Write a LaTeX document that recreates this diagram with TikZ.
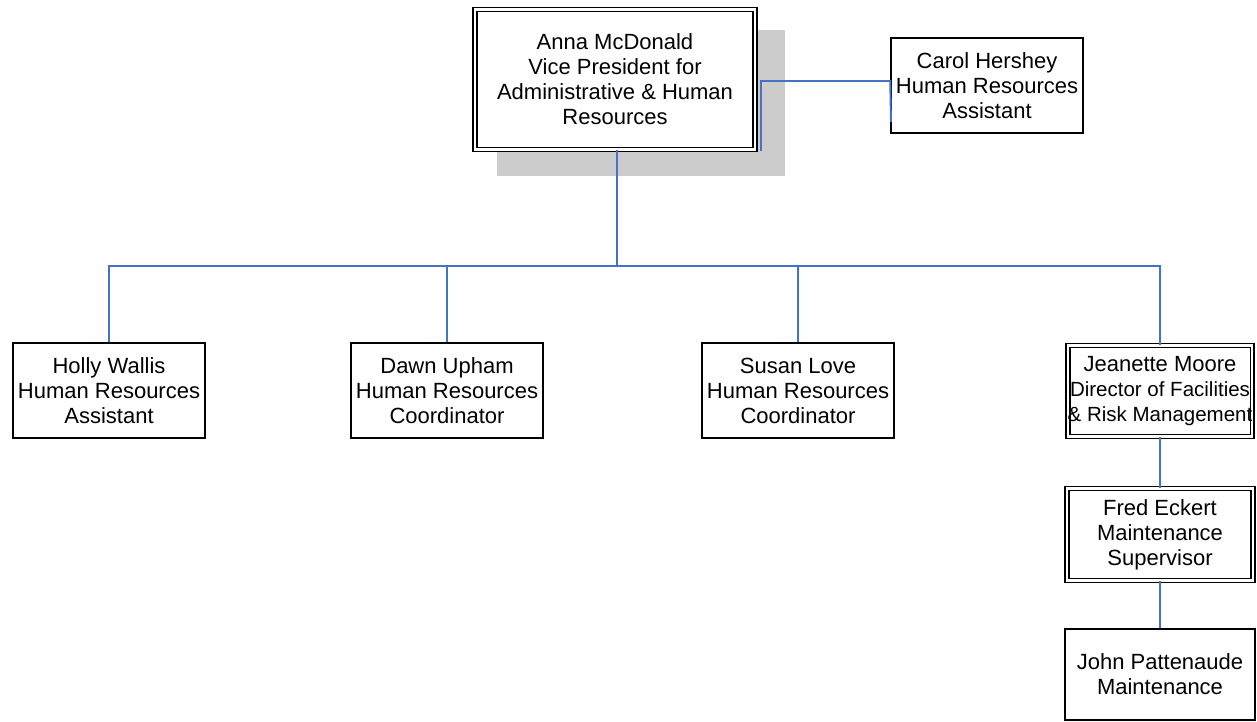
\documentclass[tikz,border=0pt]{standalone}
\usepackage{fontspec}
\setmainfont{Liberation Sans}
\definecolor{connblue}{HTML}{4472C4}
\definecolor{shadowgray}{HTML}{CCCCCC}
\tikzset{
  box/.style={draw=black, line width=1.6pt, fill=white, rectangle, inner sep=0pt, align=center,
    font=\fontsize{22}{25}\selectfont},
  dbox/.style={draw=black, line width=1.7pt, double=white, double distance=2.2pt, fill=white, rectangle,
    inner sep=0pt, align=center, font=\fontsize{22}{25}\selectfont},
  conn/.style={draw=connblue, line width=1.9pt},
}
\begin{document}
\begin{tikzpicture}[x=1pt, y=-1pt]
\useasboundingbox (0,0) rectangle (1257,722);
% shadow of the top box
\fill[shadowgray] (497,30) rectangle (785,176);
% nodes
\node[dbox, minimum width=280pt, minimum height=140pt] (anna) at (615,79.5)
  {Anna McDonald\\Vice President for\\Administrative \& Human\\Resources};
\node[box, minimum width=192pt, minimum height=95pt] (carol) at (987,85.5)
  {Carol Hershey\\Human Resources\\Assistant};
\node[box, minimum width=192pt, minimum height=95pt] (holly) at (109,390.5)
  {Holly Wallis\\Human Resources\\Assistant};
\node[box, minimum width=192pt, minimum height=95pt] (dawn) at (447,390.5)
  {Dawn Upham\\Human Resources\\Coordinator};
\node[box, minimum width=192pt, minimum height=95pt] (susan) at (798,390.5)
  {Susan Love\\Human Resources\\Coordinator};
\node[dbox, minimum width=184pt, minimum height=91pt] (jeanette) at (1160,391)
  {Jeanette Moore\\{\fontsize{20.5}{24}\selectfont Director of Facilities}\\{\fontsize{20.5}{24}\selectfont \& Risk Management}};
\node[dbox, minimum width=186pt, minimum height=92pt] (fred) at (1160,534.5)
  {Fred Eckert\\Maintenance\\Supervisor};
\node[box, minimum width=190pt, minimum height=91pt] (john) at (1160,674.5)
  {John Pattenaude\\Maintenance};
% connectors
\coordinate (trunk) at (617,266);
\coordinate (annaside) at (761,151);
\coordinate (asstbend) at (761,81);
\coordinate (asstend) at (891,122);
\draw[conn] (anna.south -| trunk) -- (trunk);
\draw[conn] (holly.north) |- (trunk);
\draw[conn] (jeanette.north) |- (trunk);
\draw[conn] (dawn.north) -- (dawn.north |- trunk);
\draw[conn] (susan.north) -- (susan.north |- trunk);
\draw[conn] (annaside) -- (asstbend) -- (asstbend -| carol.west) -- (asstend);
\draw[conn] (jeanette.south) -- (fred.north);
\draw[conn] (fred.south) -- (john.north);
\end{tikzpicture}
\end{document}
